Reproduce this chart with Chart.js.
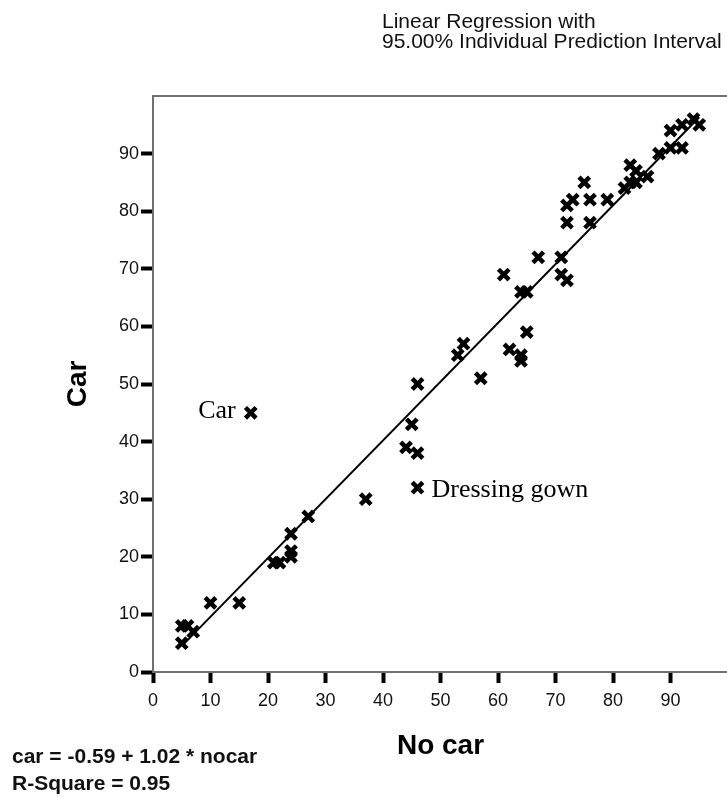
<!DOCTYPE html>
<html lang="en">
<head>
<meta charset="UTF-8">
<title>Linear Regression - Car vs No car</title>
<script src="https://cdn.jsdelivr.net/npm/chart.js@4.4.1/dist/chart.umd.min.js"></script>
<style>
    html, body {
        margin: 0;
        padding: 0;
        overflow: hidden;
        background: #fff;
    }
    body {
        width: 727px;
        height: 797px;
        position: relative;
        font-family: 'Liberation Sans', Arial, sans-serif;
    }
    #wrap {
        position: absolute;
        left: 0;
        top: 0;
        width: 740px;
        height: 797px;
    }
    .title {
        position: absolute;
        left: 382px;
        top: 11px;
        font-size: 21px;
        line-height: 20px;
        color: #111;
        white-space: nowrap;
    }
    .fit {
        position: absolute;
        left: 12px;
        top: 742px;
        font-size: 21px;
        line-height: 27px;
        font-weight: bold;
        color: #111;
        white-space: nowrap;
    }
</style>
</head>
<body>
    <div id="wrap"><canvas id="chart" width="740" height="797"></canvas></div>
    <div class="title">Linear Regression with<br>95.00% Individual Prediction Interval</div>
    <div class="fit">car = -0.59 + 1.02 * nocar<br>R-Square = 0.95</div>

<script>
// data (No car on x, Car on y)
const nocar = [5, 5, 6, 7, 10, 15, 17, 21, 22, 24, 24, 24, 27, 37, 44, 45, 46, 46, 46,
    53, 54, 57, 61, 62, 64, 64, 64, 65, 65, 67, 71, 71, 72, 72, 72, 73, 75, 76, 76,
    79, 82, 83, 83, 84, 84, 86, 88, 90, 90, 92, 92, 94, 95];
const car = [5, 8, 8, 7, 12, 12, 45, 19, 19, 20, 21, 24, 27, 30, 39, 43, 38, 32, 50,
    55, 57, 51, 69, 56, 55, 54, 66, 59, 66, 72, 72, 69, 68, 81, 78, 82, 85, 82, 78,
    82, 84, 88, 85, 87, 85, 86, 90, 94, 91, 91, 95, 96, 95];

// fitted line end points
const fitX = [5, 95];
const fitY = [4.5, 96.3];

const xTicks = [0, 10, 20, 30, 40, 50, 60, 70, 80, 90];
const yTicks = [0, 10, 20, 30, 40, 50, 60, 70, 80, 90];

// labelled points
const noteText = ['Car', 'Dressing gown'];
const noteX = [17, 46];
const noteY = [45, 32];
const noteSide = ['left', 'right'];

const sans = "'Liberation Sans', Arial, sans-serif";
const frameColor = '#707070';

const extras = {
    id: 'extras',
    afterDraw(chart) {
        const { ctx, chartArea, scales } = chart;
        ctx.save();
        // top frame line
        ctx.strokeStyle = frameColor;
        ctx.lineWidth = 2;
        ctx.beginPath();
        ctx.moveTo(chartArea.left, chartArea.top);
        ctx.lineTo(chartArea.right, chartArea.top);
        ctx.stroke();

        ctx.font = "26px 'Liberation Serif', 'Times New Roman', serif";
        ctx.fillStyle = '#000';
        ctx.textBaseline = 'middle';
        noteText.forEach((t, i) => {
            const px = scales.x.getPixelForValue(noteX[i]);
            const py = scales.y.getPixelForValue(noteY[i]);
            if (noteSide[i] === 'left') {
                ctx.textAlign = 'right';
                ctx.fillText(t, px - 15, py - 2);
            } else {
                ctx.textAlign = 'left';
                ctx.fillText(t, px + 14, py + 2);
            }
        });
        ctx.restore();
    }
};

new Chart(document.getElementById('chart'), {
    type: 'scatter',
    data: {
        datasets: [
            {
                data: nocar.map((x, i) => ({ x: x, y: car[i] })),
                pointStyle: 'crossRot',
                pointRadius: 7.5,
                pointBorderWidth: 4.5,
                borderColor: '#000',
                backgroundColor: '#000',
                order: 1
            },
            {
                type: 'line',
                data: fitX.map((x, i) => ({ x: x, y: fitY[i] })),
                borderColor: '#000',
                borderWidth: 2,
                pointRadius: 0,
                fill: false,
                tension: 0,
                order: 2
            }
        ]
    },
    options: {
        responsive: false,
        animation: false,
        devicePixelRatio: 1,
        layout: { padding: { top: 96, right: 9, left: 0, bottom: 0 } },
        plugins: {
            legend: { display: false },
            tooltip: { enabled: false }
        },
        scales: {
            x: {
                type: 'linear',
                min: 0,
                max: 100,
                afterFit: s => { s.height = 125; },
                afterBuildTicks: s => { s.ticks = xTicks.map(v => ({ value: v })); },
                grid: { drawOnChartArea: false, drawTicks: true, tickLength: 11, tickWidth: 4, tickColor: '#000' },
                border: { display: true, color: frameColor, width: 2 },
                ticks: { padding: 7, color: '#111', maxRotation: 0, font: { family: sans, size: 18 } },
                title: {
                    display: true,
                    text: 'No car',
                    color: '#000',
                    font: { family: sans, size: 28, weight: 'bold' },
                    padding: { top: 0, bottom: 34 }
                }
            },
            y: {
                type: 'linear',
                min: 0,
                max: 100,
                afterFit: s => { s.width = 153; },
                afterBuildTicks: s => { s.ticks = yTicks.map(v => ({ value: v })); },
                grid: { drawOnChartArea: false, drawTicks: true, tickLength: 12, tickWidth: 4, tickColor: '#000' },
                border: { display: true, color: frameColor, width: 2 },
                ticks: { padding: 2, color: '#111', font: { family: sans, size: 18 } },
                title: {
                    display: true,
                    text: 'Car',
                    color: '#000',
                    font: { family: sans, size: 28, weight: 'bold' },
                    padding: { top: 61, bottom: 0 }
                }
            }
        }
    },
    plugins: [extras]
});
</script>
</body>
</html>
